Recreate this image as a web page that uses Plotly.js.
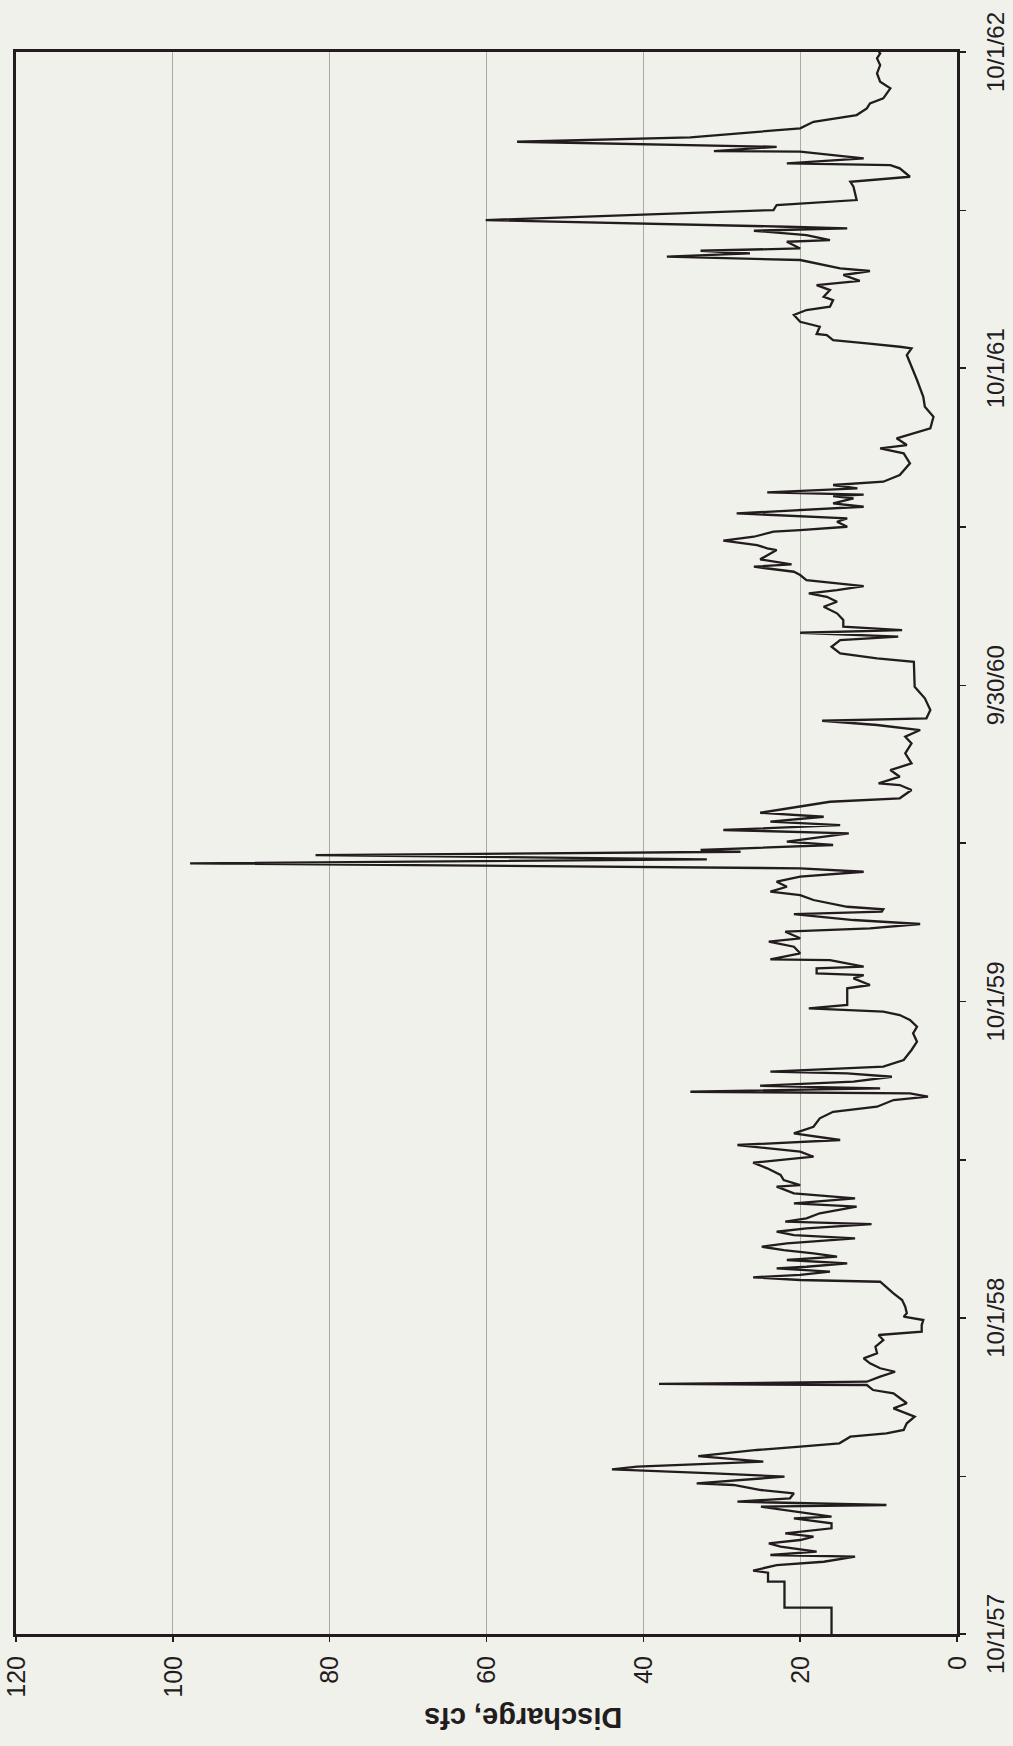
<!DOCTYPE html>
<html>
<head>
<meta charset="utf-8">
<script src="https://cdn.plot.ly/plotly-3.0.1.min.js"></script>
<style>
  html, body { margin: 0; padding: 0; background: #eff1ea; overflow: hidden; }
  #page { position: relative; width: 1013px; height: 1746px; overflow: hidden; }
  /* landscape hydrograph, turned a quarter turn counter-clockwise on the page */
  #chart {
    position: absolute; left: 0; top: 0;
    width: 1746px; height: 1013px;
    transform-origin: 0 0;
    transform: translate(0px, 1746px) rotate(-90deg);
  }
</style>
</head>
<body>
<div id="page"><div id="chart"></div></div>
<script>
// Daily discharge record, water years 1958-1962.
// dayOfRecord: days since 1 October 1957; discharge in cubic feet per second.
const dayOfRecord = [
  0, 30.4, 30.4, 60.4, 60.4, 70.8, 73.1, 79.6, 83.4, 89.2, 91.2, 95.0, 100.8, 104.7, 108.5, 112.3,
  116.2, 122.0, 127.8, 133.5, 135.4, 143.1, 146.9, 148.9, 152.7, 156.6, 162.4, 166.2, 172.0, 173.9,
  177.7, 181.6, 185.5, 190.1, 193.1, 198.9, 205.4, 212.4, 216.2, 220.1, 227.7, 231.6, 235.5, 243.2,
  250.8, 254.7, 260.5, 266.3, 272.0, 277.8, 281.6, 287.4, 288.6, 291.2, 297.0, 302.7, 306.7, 312.4,
  318.2, 324.0, 331.6, 339.3, 345.1, 348.9, 356.6, 362.4, 366.2, 370.2, 377.8, 385.5, 393.2, 400.9,
  406.6, 408.6, 411.7, 414.4, 418.2, 422.1, 423.9, 427.9, 431.7, 435.5, 439.4, 443.2, 447.0, 450.9,
  456.7, 460.5, 464.3, 468.3, 473.2, 475.9, 479.8, 485.6, 493.2, 497.1, 502.9, 508.7, 516.3, 518.2,
  524.0, 529.8, 537.5, 544.0, 547.1, 550.9, 556.7, 564.4, 570.2, 577.9, 585.5, 595.2, 602.8, 606.8,
  608.6, 616.3, 620.2, 624.1, 625.9, 629.8, 632.8, 637.5, 643.2, 647.1, 649.0, 654.8, 662.5, 674.1,
  683.6, 693.3, 700.9, 708.7, 714.4, 718.3, 720.2, 722.2, 726.0, 734.9, 745.3, 749.1, 756.8, 760.6,
  762.6, 768.3, 770.2, 777.9, 778.7, 785.7, 793.3, 799.1, 803.0, 810.6, 814.5, 819.5, 824.1, 831.0,
  833.7, 836.4, 839.4, 847.2, 852.9, 856.8, 862.5, 868.3, 874.1, 879.8, 883.8, 889.5, 894.2, 899.1,
  902.9, 904.9, 908.7, 910.7, 914.5, 924.2, 928.0, 933.7, 937.6, 943.3, 947.9, 960.6, 964.6, 974.1,
  979.9, 981.8, 989.5, 997.2, 1004.9, 1016.5, 1028.0, 1035.7, 1043.4, 1049.2, 1054.1, 1056.9, 1066.5,
  1080.0, 1093.4, 1122.2, 1126.1, 1131.9, 1139.5, 1147.3, 1151.1, 1155.7, 1158.8, 1162.6, 1170.4,
  1178.1, 1185.7, 1191.5, 1197.2, 1201.2, 1205.0, 1209.6, 1216.5, 1222.3, 1226.1, 1231.9, 1234.6,
  1240.4, 1251.1, 1253.1, 1256.9, 1261.9, 1266.5, 1272.3, 1274.2, 1278.0, 1283.8, 1287.7, 1293.5,
  1297.3, 1301.1, 1305.0, 1310.8, 1313.5, 1315.0, 1317.7, 1322.3, 1326.2, 1330.0, 1337.7, 1351.2,
  1362.7, 1368.5, 1372.3, 1380.1, 1391.6, 1405.0, 1416.5, 1428.1, 1447.4, 1466.6, 1476.2, 1483.9,
  1485.8, 1489.7, 1493.5, 1499.3, 1500.5, 1508.9, 1514.6, 1522.4, 1528.2, 1532.0, 1539.7, 1543.5,
  1551.2, 1557.0, 1561.9, 1568.6, 1573.2, 1576.3, 1585.9, 1589.7, 1593.6, 1596.6, 1599.3, 1607.0,
  1608.9, 1614.7, 1619.7, 1622.5, 1624.3, 1632.0, 1643.6, 1649.4, 1655.1, 1670.5, 1676.2, 1682.0,
  1691.7, 1695.5, 1697.5, 1703.2, 1707.1, 1710.9, 1711.7, 1716.6, 1722.4, 1727.5, 1737.9, 1745.5,
  1753.2, 1760.9, 1766.7, 1772.5, 1784.0, 1791.7, 1801.3, 1810.9, 1818.6, 1824.4, 1826
];
const dischargeCfs = [
  16, 16, 22, 22, 24.1, 24.1, 26, 23, 17, 13, 23.8, 17.9, 22.5, 24, 20, 18.3,
  21.9, 16, 16, 20.8, 16, 21.7, 25, 9, 28, 21.3, 20.8, 25, 28.5, 33.2,
  28, 22, 31, 44, 40.8, 24.7, 33, 25.5, 20, 15, 13.6, 9, 6.8, 6.4,
  5.4, 6.4, 8.1, 6.4, 7.3, 8.1, 10.7, 11.5, 38, 11.5, 9.8, 7.9, 9.8, 11.1,
  11.9, 10.2, 10.4, 9.4, 10, 4.5, 4.5, 4.3, 6.8, 6.4, 6.6, 7, 8.1, 9,
  9.8, 20, 26, 20, 16.2, 23, 19.2, 14, 21.7, 15.3, 18.3, 22.1, 24.9, 21.7,
  13, 20.8, 23, 19.2, 10.9, 21.9, 19.2, 17.5, 12.8, 20.8, 13, 20.8, 23, 20,
  22.1, 22.5, 24.2, 26, 22.1, 18.3, 20, 28, 14.9, 20.8, 18.3, 17.5, 15.8, 11.5,
  10.2, 8.1, 3.7, 6, 34, 9.8, 25.1, 13.2, 8.3, 14, 23.8, 9.4, 6.8, 5.8,
  5.1, 5.6, 5.1, 6, 7.3, 9.4, 14, 18.9, 14, 14, 14, 11.1, 13.2, 11.9,
  17.9, 17.9, 11.9, 16.2, 23.8, 20, 20.8, 24, 20, 21.9, 11.1, 4.7, 13.2, 20.8,
  9.6, 9.4, 14, 18.3, 20, 23.8, 21.7, 23, 20, 11.9, 20, 97.8, 31.9, 81.8,
  27.6, 32.7, 20, 15.8, 21.7, 13.8, 29.8, 14.9, 23.8, 17, 25.1, 16.2, 7.3, 5.8,
  7.3, 10, 7.3, 8.5, 5.8, 6.6, 5.8, 6.6, 4.7, 10.2, 17.2, 3.9, 3.4,
  4.1, 5.4, 5.5, 10.2, 14.9, 16, 14.9, 7.5, 20, 7, 14.5, 14.5,
  15.3, 17, 15.3, 16.6, 18.9, 15.3, 11.9, 19.2, 20, 20.8, 25.9, 21.1,
  25.1, 23, 24.2, 25.5, 29.8, 25.9, 23.4, 20, 14, 15.3, 14, 28.1,
  20, 11.9, 15.8, 13.2, 15.8, 11.9, 24.2, 12.7, 15.8, 9.4, 7.3, 6,
  6.8, 9.8, 6.4, 7.7, 3.4, 3, 4.1, 4.3, 5.1, 6, 6.4, 5.8,
  7.3, 11.5, 15.8, 16.6, 17.9, 17.5, 20, 20.8, 19.2, 16.2, 15.8, 17,
  16.2, 17.9, 12.4, 14.5, 11.1, 14.9, 20, 37, 26.4, 32.7, 20, 21.7,
  16.2, 19.2, 25.9, 14, 21.7, 60.1, 23.4, 23, 12.8, 13.2, 13.6, 6,
  7.3, 8.5, 21.7, 11.9, 15.8, 20, 31, 23, 56.1, 34, 20, 18.3,
  12.8, 11.5, 11.1, 9.4, 8.5, 9.8, 10.2, 9.8, 10.2, 9.8, 10
];

// Time axis: labelled each water year, tick marks every half year
const timeTickVals = [
  '1957-10-01', '1958-04-01', '1958-10-01', '1959-04-01', '1959-10-01', '1960-04-01',
  '1960-09-30', '1961-04-01', '1961-10-01', '1962-04-01', '1962-10-01'
];
const timeTickText = ['10/1/57', '', '10/1/58', '', '10/1/59', '', '9/30/60', '', '10/1/61', '', '10/1/62'];
const dischargeTicks = [0, 20, 40, 60, 80, 100, 120];

const recordStart = Date.UTC(1957, 9, 1);
const dates = dayOfRecord.map(d => {
  const iso = new Date(recordStart + d * 86400000).toISOString();
  return iso.slice(0, 10) + ' ' + iso.slice(11, 19);
});

const ink = '#231c1e';
const font = 'Arial, "Liberation Sans", sans-serif';

const trace = {
  type: 'scatter',
  mode: 'lines',
  x: dates,
  y: dischargeCfs,
  line: { color: ink, width: 2.3 },
  hoverinfo: 'skip'
};

const layout = {
  width: 1746,
  height: 1013,
  margin: { l: 112, r: 52, t: 16, b: 56 },
  paper_bgcolor: '#eff1ea',
  plot_bgcolor: '#eff1ea',
  showlegend: false,
  font: { family: font, color: ink },
  xaxis: {
    type: 'date',
    range: ['1957-10-01', '1962-10-01'],
    tickmode: 'array',
    tickvals: timeTickVals,
    ticktext: timeTickText,
    ticks: 'outside',
    ticklen: 6,
    tickwidth: 1.5,
    tickcolor: ink,
    tickangle: 0,
    ticklabelstandoff: 9,
    tickfont: { family: font, size: 24, color: ink },
    showgrid: false,
    zeroline: false,
    showline: true,
    mirror: true,
    linecolor: ink,
    linewidth: 3
  },
  yaxis: {
    range: [0, 120],
    tickmode: 'array',
    tickvals: dischargeTicks,
    ticktext: dischargeTicks.map(String),
    ticks: 'outside',
    ticklen: 5,
    tickwidth: 1.5,
    tickcolor: ink,
    ticklabelstandoff: 9,
    tickfont: { family: font, size: 25, color: ink },
    showgrid: true,
    gridcolor: '#a9aaa6',
    gridwidth: 1,
    zeroline: false,
    showline: true,
    mirror: true,
    linecolor: ink,
    linewidth: 3
  },
  annotations: [{
    text: '<b>Discharge, cfs</b>',
    xref: 'paper', yref: 'paper',
    x: -0.053, y: 0.461,
    xanchor: 'center', yanchor: 'middle',
    textangle: -90,
    showarrow: false,
    font: { family: font, size: 29, color: ink }
  }]
};

Plotly.newPlot('chart', [trace], layout, { displayModeBar: false, staticPlot: true });
</script>
</body>
</html>
